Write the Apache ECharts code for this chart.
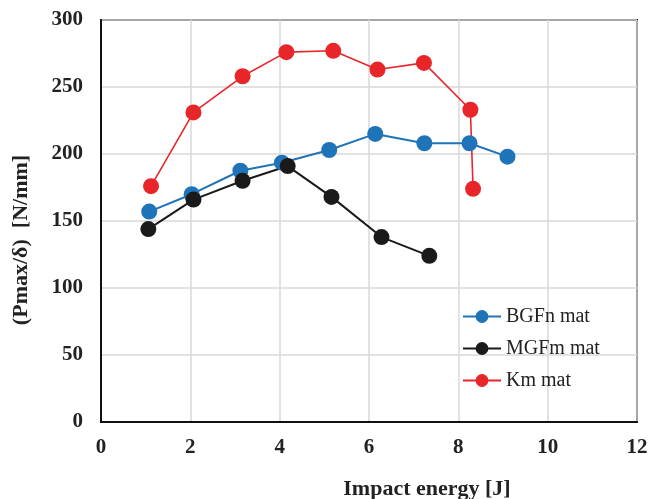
<!DOCTYPE html>
<html>
<head>
<meta charset="utf-8">
<script src="https://cdn.jsdelivr.net/npm/echarts@6/dist/echarts.min.js"></script>
<style>html,body{margin:0;padding:0;background:#fff}#c{width:659px;height:499px}</style>
</head>
<body>
<div id="c"></div>
<script>
const seriesNames = ["BGFn mat", "MGFm mat", "Km mat"];
const bgfnX = [1.08, 2.03, 3.12, 4.05, 5.11, 6.14, 7.24, 8.25, 9.1];
const bgfnY = [157, 170, 187.5, 193.5, 203, 215, 208, 208, 198];
const mgfmX = [1.06, 2.07, 3.17, 4.18, 5.16, 6.28, 7.35];
const mgfmY = [144, 166, 180, 191, 168, 138, 124];
const kmX = [1.12, 2.07, 3.17, 4.15, 5.2, 6.19, 7.23, 8.27, 8.33];
const kmY = [176, 231, 258, 276, 277, 263, 268, 233, 174];
const xTicks = [0, 2, 4, 6, 8, 10, 12];
const yTicks = [0, 50, 100, 150, 200, 250, 300];

const zip = (xs, ys) => xs.map((x, i) => [x, ys[i]]);
const colors = ["#1f73b9", "#1a1a1a", "#e8262a"];
const font = "'Liberation Serif', 'Times New Roman', serif";

const chart = echarts.init(document.getElementById('c'), null, {renderer: 'canvas'});
const mk = (name, data, color, lw) => ({
  name, type: 'line', data, symbol: 'circle', symbolSize: 16,
  lineStyle: {color, width: lw}, itemStyle: {color}, animation: false, z: 3
});
chart.setOption({
  animation: false,
  grid: {left: 101, right: 22, top: 20, bottom: 77, show: true, borderColor: '#111', borderWidth: 2,
         containLabel: false, outerBoundsMode: 'none'},
  legend: {
    orient: 'vertical', left: 457, top: 301, itemGap: 11, itemWidth: 38, itemHeight: 16,
    textStyle: {fontFamily: font, fontSize: 20, lineHeight: 21, color: '#222'},
    data: seriesNames
  },
  xAxis: {
    type: 'value', min: xTicks[0], max: xTicks[xTicks.length - 1], interval: 2,
    name: 'Impact energy [J]', nameLocation: 'middle', nameGap: 56,
    nameTextStyle: {fontFamily: font, fontSize: 22, fontWeight: 'bold', color: '#222', padding: [0, 0, 0, 116]},
    axisLine: {lineStyle: {color: '#111', width: 2}},
    axisTick: {show: false},
    axisLabel: {fontFamily: font, fontSize: 21, fontWeight: 'bold', color: '#222', margin: 15},
    splitLine: {lineStyle: {color: '#d9d9d9', width: 1.5}}
  },
  yAxis: {
    type: 'value', min: yTicks[0], max: yTicks[yTicks.length - 1], interval: 50,
    name: '(Pmax/δ)  [N/mm]', nameLocation: 'middle', nameGap: 69, nameRotate: 90,
    nameTextStyle: {fontFamily: font, fontSize: 22, fontWeight: 'bold', color: '#222', padding: [0, 38, 0, 0]},
    axisLine: {show: true, lineStyle: {color: '#111', width: 2}},
    axisTick: {show: false},
    axisLabel: {fontFamily: font, fontSize: 21, fontWeight: 'bold', color: '#222', margin: 18},
    splitLine: {lineStyle: {color: '#d9d9d9', width: 1.5}}
  },
  series: [
    mk(seriesNames[0], zip(bgfnX, bgfnY), colors[0], 2),
    mk(seriesNames[1], zip(mgfmX, mgfmY), colors[1], 2),
    mk(seriesNames[2], zip(kmX, kmY), colors[2], 1.6)
  ]
});
</script>
</body>
</html>
